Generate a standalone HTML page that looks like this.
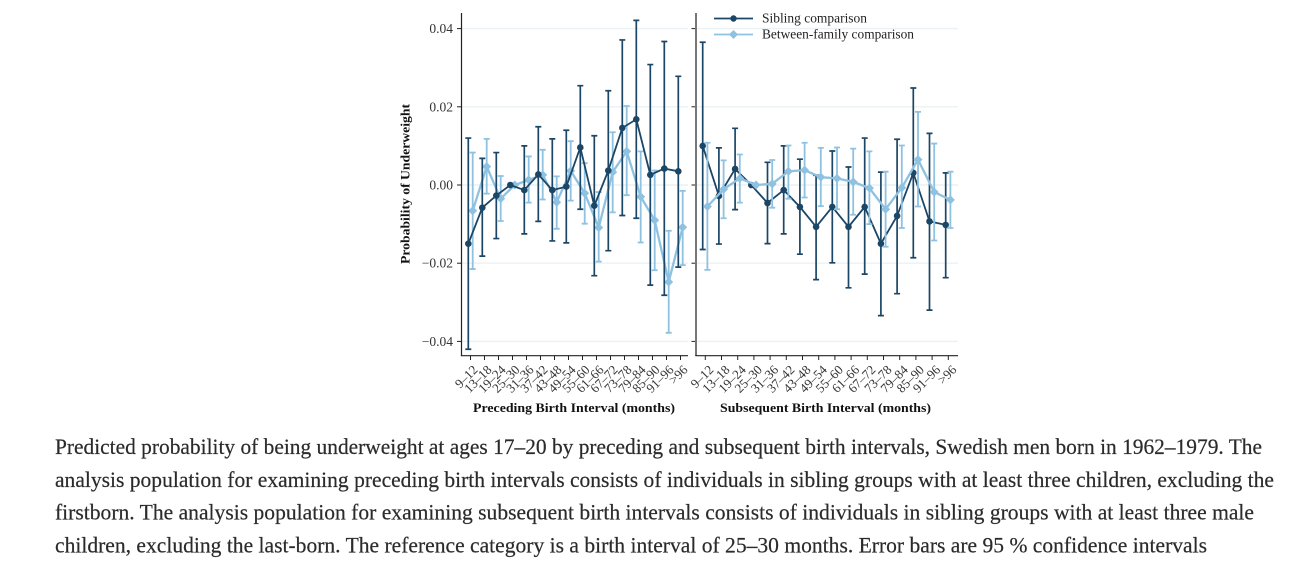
<!DOCTYPE html>
<html lang="en">
<head>
<meta charset="utf-8">
<title>Probability of underweight by birth interval</title>
<style>
html,body{margin:0;padding:0;background:#fff;width:1307px;height:567px;overflow:hidden}
svg{display:block}
.tick{font-family:"Liberation Serif",serif;font-size:13.5px;fill:#333}
.xtick{font-size:13px}
.title{font-family:"Liberation Serif",serif;font-size:13px;font-weight:bold;fill:#111}
.legend{font-family:"Liberation Serif",serif;font-size:13.5px;fill:#222}
.cap{font-family:"Liberation Serif",serif;font-size:22px;fill:#2b2b2b;stroke:#2b2b2b;stroke-width:.2px}
</style>
</head>
<body>
<svg id="chart" width="1307" height="567" viewBox="0 0 1307 567" xmlns="http://www.w3.org/2000/svg">
  <g id="grid"></g>
  <g id="axes"></g>
  <g id="marks"></g>
  <text class="title" transform="translate(409.5,264) rotate(-90)" textLength="160" lengthAdjust="spacingAndGlyphs">Probability of Underweight</text>
  <text class="title" x="473" y="412" textLength="202" lengthAdjust="spacingAndGlyphs">Preceding Birth Interval (months)</text>
  <text class="title" x="720" y="412" textLength="211" lengthAdjust="spacingAndGlyphs">Subsequent Birth Interval (months)</text>
  <g>
    <g>
      <line x1="714" x2="753" y1="18.5" y2="18.5" stroke="#1c4666" stroke-width="1.7"/>
      <circle cx="733.5" cy="18.5" r="3.2" fill="#1c4666"/>
      <text class="legend" x="762" y="22.5" textLength="105" lengthAdjust="spacingAndGlyphs">Sibling comparison</text>
    </g>
    <g>
      <line x1="714" x2="753" y1="34.5" y2="34.5" stroke="#8fc1e1" stroke-width="1.7"/>
      <path d="M733.5 30l4.5 4.5-4.5 4.5-4.5-4.5z" fill="#8fc1e1"/>
      <text class="legend" x="762" y="38.5" textLength="152" lengthAdjust="spacingAndGlyphs">Between-family comparison</text>
    </g>
  </g>
  <g>
    <text class="cap" x="55" y="454" textLength="1207" lengthAdjust="spacingAndGlyphs">Predicted probability of being underweight at ages 17–20 by preceding and subsequent birth intervals, Swedish men born in 1962–1979. The</text>
    <text class="cap" x="55" y="487" textLength="1219" lengthAdjust="spacingAndGlyphs">analysis population for examining preceding birth intervals consists of individuals in sibling groups with at least three children, excluding the</text>
    <text class="cap" x="55" y="519.5" textLength="1199" lengthAdjust="spacingAndGlyphs">firstborn. The analysis population for examining subsequent birth intervals consists of individuals in sibling groups with at least three male</text>
    <text class="cap" x="55" y="552.5" textLength="1152" lengthAdjust="spacingAndGlyphs">children, excluding the last-born. The reference category is a birth interval of 25–30 months. Error bars are 95 % confidence intervals</text>
  </g>
</svg>
<script>
const categories = ["9–12","13–18","19–24","25–30","31–36","37–42","43–48","49–54","55–60","61–66","67–72","73–78","79–84","85–90","91–96",">96"];
const yTicks = [0.04,0.02,0,-0.02,-0.04];
const yTickLabels = ["0.04","0.02","0.00","−0.02","−0.04"];

const precedingSiblingMean = [-0.0150,-0.0058,-0.0027,0,-0.0013,0.0027,-0.0013,-0.0004,0.0096,-0.0053,0.0037,0.0146,0.0168,0.0026,0.0042,0.0035];
const precedingSiblingLow  = [-0.0420,-0.0182,-0.0137,0,-0.0125,-0.0093,-0.0143,-0.0148,-0.0062,-0.0232,-0.0168,-0.0078,-0.0085,-0.0256,-0.0282,-0.0210];
const precedingSiblingHigh = [0.0120,0.0068,0.0083,0,0.0100,0.0149,0.0118,0.0140,0.0254,0.0126,0.0241,0.0371,0.0421,0.0308,0.0367,0.0278];

const precedingBetweenMean = [-0.0066,0.0047,-0.0035,0,0.0013,0.0026,-0.0044,0.0036,-0.0021,-0.0109,0.0033,0.0086,-0.0030,-0.0090,-0.0248,-0.0108];
const precedingBetweenLow  = [-0.0215,-0.0022,-0.0092,0,-0.0045,-0.0037,-0.0112,-0.0040,-0.0099,-0.0196,-0.0070,-0.0026,-0.0147,-0.0218,-0.0378,-0.0205];
const precedingBetweenHigh = [0.0083,0.0118,0.0023,0,0.0073,0.0090,0.0022,0.0112,0.0056,-0.0018,0.0135,0.0202,0.0086,0.0037,-0.0117,-0.0015];

const subsequentSiblingMean = [0.0100,-0.0028,0.0041,0,-0.0046,-0.0013,-0.0056,-0.0107,-0.0056,-0.0107,-0.0056,-0.0150,-0.0079,0.0031,-0.0093,-0.0102];
const subsequentSiblingLow  = [-0.0165,-0.0151,-0.0063,0,-0.0150,-0.0125,-0.0177,-0.0242,-0.0199,-0.0263,-0.0228,-0.0334,-0.0278,-0.0186,-0.0320,-0.0237];
const subsequentSiblingHigh = [0.0365,0.0095,0.0145,0,0.0058,0.0100,0.0066,0.0025,0.0087,0.0046,0.0120,0.0033,0.0117,0.0248,0.0132,0.0031];

const subsequentBetweenMean = [-0.0055,-0.0011,0.0017,0,0.0003,0.0035,0.0038,0.0020,0.0017,0.0008,-0.0008,-0.0062,-0.0007,0.0065,-0.0018,-0.0038];
const subsequentBetweenLow  = [-0.0217,-0.0085,-0.0045,0,-0.0058,-0.0035,-0.0032,-0.0054,-0.0062,-0.0076,-0.0100,-0.0158,-0.0110,-0.0055,-0.0142,-0.0110];
const subsequentBetweenHigh = [0.0108,0.0063,0.0078,0,0.0064,0.0101,0.0108,0.0095,0.0096,0.0093,0.0086,0.0034,0.0101,0.0187,0.0106,0.0034];

const NS = "http://www.w3.org/2000/svg";
const DARK = "#1c4666";
const LIGHT = "#8fc1e1";

function yScale(v){ return 185 - v * 3910; }
function leftX(i){ return 470.5 + 14 * i; }
function rightX(i){ return 705.3 + 16.2 * i; }

function make(tag, attrs, parent){
  const el = document.createElementNS(NS, tag);
  for (const k in attrs) el.setAttribute(k, attrs[k]);
  parent.appendChild(el);
  return el;
}

const gridG = document.getElementById("grid");
const axesG = document.getElementById("axes");
const marksG = document.getElementById("marks");

const panels = [
  {key:"preceding", x:leftX, axisX:461.5, endX:688, axisColor:"#222", axisWidth:1.2, labelDx:8},
  {key:"subsequent", x:rightX, axisX:696, endX:958, axisColor:"#777", axisWidth:2, labelDx:9}
];

panels.forEach(function(p){
  yTicks.forEach(function(t, idx){
    const g = make("line", {x1:p.axisX, x2:p.endX, y1:yScale(t), y2:yScale(t), stroke:"#e9f2f4", "stroke-width":1.4}, gridG);
    
    
    const tk = make("line", {x1:p.axisX - 4.5, x2:p.axisX, y1:yScale(t), y2:yScale(t), stroke:"#222", "stroke-width":1}, axesG);
    
    
    if (p.key === "preceding") {
      const lb = make("text", {x:p.axisX - 8.5, y:yScale(t) + 4.5, "text-anchor":"end", "class":"tick"}, axesG);
      
      
      lb.textContent = yTickLabels[idx];
    }
  });
  const ya = make("line", {x1:p.axisX, x2:p.axisX, y1:13, y2:356, stroke:p.axisColor, "stroke-width":p.axisWidth}, axesG);
  
  
  const xa = make("line", {x1:p.axisX - 0.6, x2:p.endX, y1:355.7, y2:355.7, stroke:"#222", "stroke-width":1.2}, axesG);
  
  
  categories.forEach(function(c, i){
    const x = p.x(i);
    const tk = make("line", {x1:x, x2:x, y1:355.7, y2:360, stroke:"#222", "stroke-width":1}, axesG);
    
    
    const lb = make("text", {"text-anchor":"end", "class":"tick xtick", transform:"translate(" + (x + p.labelDx) + ",370.5) rotate(-45)"}, axesG);
    
    
    lb.textContent = c;
  });
});

function drawSeries(name, xFn, dx, color, mean, low, high, shape, lw){
  const g = make("g", {}, marksG);
  
  
  mean.forEach(function(m, i){
    if (low[i] === high[i]) return;
    const x = xFn(i) + dx;
    const bar = make("path", {
      d:"M" + x + " " + yScale(low[i]) + "V" + yScale(high[i]) +
        "M" + (x - 3) + " " + yScale(low[i]) + "H" + (x + 3) +
        "M" + (x - 3) + " " + yScale(high[i]) + "H" + (x + 3),
      fill:"none", stroke:color, "stroke-width":lw
    }, g);
    
    
  });
  const pts = mean.map(function(m, i){ return (xFn(i) + dx) + "," + yScale(m); }).join(" ");
  const line = make("polyline", {points:pts, fill:"none", stroke:color, "stroke-width":shape === "circle" ? 1.8 : 2.3}, g);
  
  
  mean.forEach(function(m, i){
    const x = xFn(i) + dx, y = yScale(m);
    let pt;
    if (shape === "circle") {
      pt = make("circle", {cx:x, cy:y, r:3.3, fill:color}, g);
    } else {
      pt = make("path", {d:"M" + x + " " + (y - 4.5) + "l4.5 4.5-4.5 4.5-4.5-4.5z", fill:color}, g);
    }
    
    
  });
}

drawSeries("preceding-between-family-series", leftX, 2.2, LIGHT, precedingBetweenMean, precedingBetweenLow, precedingBetweenHigh, "diamond", 1.8);
drawSeries("preceding-sibling-series", leftX, -2.2, DARK, precedingSiblingMean, precedingSiblingLow, precedingSiblingHigh, "circle", 1.7);
drawSeries("subsequent-sibling-series", rightX, -2.6, DARK, subsequentSiblingMean, subsequentSiblingLow, subsequentSiblingHigh, "circle", 1.7);
drawSeries("subsequent-between-family-series", rightX, 2.1, LIGHT, subsequentBetweenMean, subsequentBetweenLow, subsequentBetweenHigh, "diamond", 1.8);
</script>
</body>
</html>
